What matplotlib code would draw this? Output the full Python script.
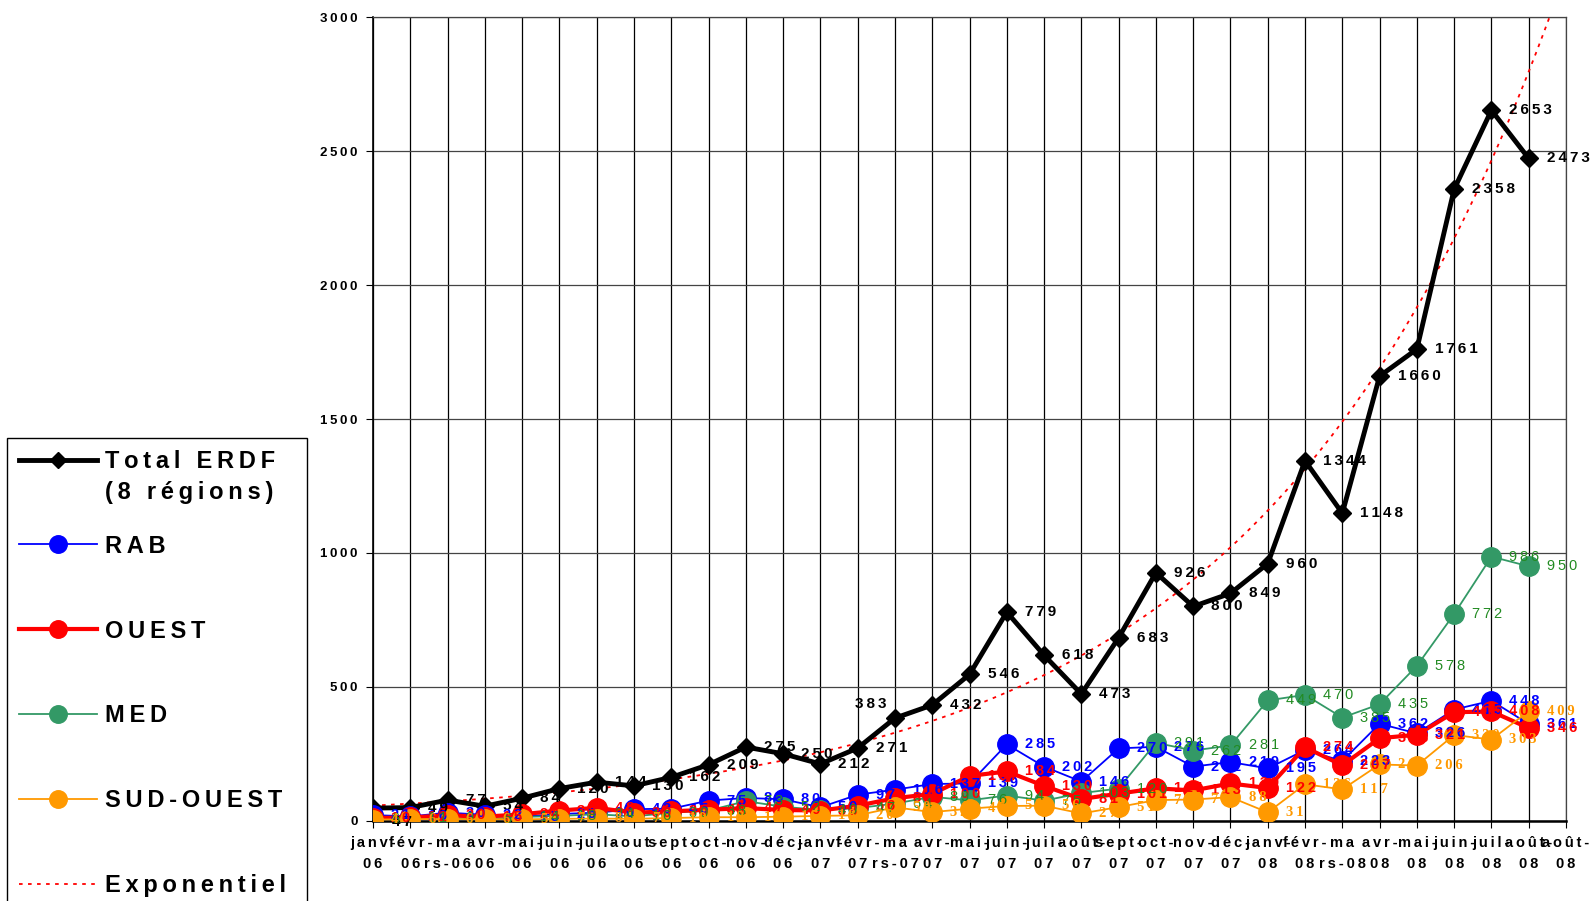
import numpy as np
import matplotlib
matplotlib.use("Agg")
import matplotlib.pyplot as plt

plt.rcParams['font.family'] = ['Liberation Sans', 'DejaVu Sans']

mois = ["janv-06", "févr-06", "mars-06", "avr-06", "mai-06", "juin-06", "juil-06", "aout-06",
        "sept-06", "oct-06", "nov-06", "déc-06", "janv-07", "févr-07", "mars-07", "avr-07",
        "mai-07", "juin-07", "juil-07", "août-07", "sept-07", "oct-07", "nov-07", "déc-07",
        "janv-08", "févr-08", "mars-08", "avr-08", "mai-08", "juin-08", "juil-08", "août-08",
        "août-08"]

total = [47, 49, 77, 54, 84, 120, 144, 130, 162, 209, 275, 250, 212, 271, 383, 432,
         546, 779, 618, 473, 683, 926, 800, 849, 960, 1344, 1148, 1660, 1761, 2358, 2653, 2473]
rab = [21, 16, 30, 22, 15, 25, 30, 43, 45, 75, 85, 80, 50, 97, 116, 137,
       139, 285, 202, 146, 270, 276, 202, 219, 195, 264, 223, 362, 326, 415, 448, 361]
ouest = [10, 12, 20, 15, 24, 38, 48, 30, 35, 41, 47, 40, 38, 56, 84, 100,
         167, 184, 130, 81, 101, 121, 113, 139, 122, 274, 207, 308, 321, 405, 408, 346]
med = [6, 11, 9, 6, 14, 18, 24, 16, 30, 38, 73, 52, 40, 47, 64, 89,
       76, 94, 75, 103, 120, 291, 262, 281, 449, 470, 385, 435, 578, 772, 986, 950]
sud_ouest = [4, 6, 6, 6, 5, 7, 8, 7, 10, 13, 13, 15, 18, 20, 50, 32,
             45, 55, 56, 27, 51, 77, 79, 88, 31, 136, 117, 210, 206, 320, 303, 409]

TS = '\u2009'


def spaced(s):
    return TS.join(s)


def tick_label(m):
    nom, an = m.split('-')
    if nom == 'mars':
        return spaced('ma') + '\n' + spaced('rs-' + an)
    return spaced(nom + '-') + '\n' + spaced(an)


fig = plt.figure(figsize=(15.94, 9.01), dpi=100)
ax = fig.add_axes([373 / 1594, 1 - 820.7 / 901, (1566 - 373) / 1594, (820.7 - 17.3) / 901])

x = np.arange(len(total))

# tendance exponentielle (ajustement moindres carres sur ln)
b, a = np.polyfit(x, np.log(total), 1)
xt = np.linspace(0, len(mois) - 1, 200)
ax.plot(xt, np.exp(a + b * xt), color='red', lw=1.3, ls=(0, (2, 3)), zorder=2,
        label=spaced('Exponentiel'))

ax.plot(x, total, color='black', lw=3.5, marker='D', ms=9, zorder=3,
        label=spaced('Total ERDF'))
ax.plot(x, rab, color='#0000ff', lw=1.3, marker='o', ms=14, zorder=4, label=spaced('RAB'))
ax.plot(x, med, color='#339966', lw=1.3, marker='o', ms=14, zorder=5, label=spaced('MED'))
ax.plot(x, ouest, color='#ff0000', lw=3, marker='o', ms=14, zorder=6, label=spaced('OUEST'))
ax.plot(x, sud_ouest, color='#ff9900', lw=1.3, marker='o', ms=14, zorder=7,
        label=spaced('SUD-OUEST') + '  ')

# etiquettes de donnees
series = [
    (total, 'black', dict(fontsize=11, fontweight='bold')),
    (rab, '#0000ff', dict(fontsize=10.5, fontweight='bold')),
    (ouest, '#ff0000', dict(fontsize=10.5, fontweight='bold')),
    (med, '#228b22', dict(fontsize=10.5)),
    (sud_ouest, '#ff9900', dict(fontsize=10.5, fontweight='bold', family='Liberation Serif')),
]
for vals, col, kw in series:
    for i, v in enumerate(vals):
        off = (13, 0)
        ha = 'left'
        if vals is total and i == 0:
            off = (14, -10)
        if vals is total and i == 14:
            off, ha = (-6, 10), 'right'
        ax.annotate(spaced(str(v)), (i, v), xytext=off, textcoords='offset points',
                    ha=ha, va='center', color=col, zorder=8, **kw)

ax.set_xlim(0, len(mois) - 1)
ax.set_ylim(0, 3000)
ax.set_xticks(np.arange(len(mois)))
ax.set_xticklabels([tick_label(m) for m in mois], fontsize=10.5, fontweight='bold',
                   linespacing=1.6)
ax.set_yticks(np.arange(0, 3001, 500))
ax.set_yticklabels([spaced(str(t)) for t in range(0, 3001, 500)], fontsize=9.5,
                   fontweight='bold')
ax.tick_params(axis='x', direction='out', length=5, pad=6)
ax.tick_params(axis='y', direction='out', length=5, pad=6)
ax.grid(axis='x', color='black', lw=0.9)
ax.grid(axis='y', color='#444444', lw=0.9)
ax.set_axisbelow(True)
for s in ['top', 'right']:
    ax.spines[s].set_color('#444444')
    ax.spines[s].set_linewidth(0.9)
ax.spines['bottom'].set_linewidth(1.8)
ax.spines['left'].set_linewidth(1.2)

h, l = ax.get_legend_handles_labels()
order = [1, 2, 4, 3, 5, 0]
leg = fig.legend([h[k] for k in order], [l[k] for k in order], loc='upper left',
                 bbox_to_anchor=(7 / 1594, 1 - 438 / 901), frameon=True, fancybox=False,
                 edgecolor='black', framealpha=1, prop=dict(size=17, weight='bold'),
                 labelspacing=2.62, handlelength=3.3, handletextpad=0.35, borderpad=0.5,
                 markerscale=0.9, borderaxespad=0)
leg.get_frame().set_linewidth(1.0)

# deuxieme ligne du libelle Total, sous "Total ERDF"
fig.canvas.draw()
bb = leg.get_texts()[0].get_window_extent()
fig.text(bb.x0 / 1594, (bb.y0 - 31) / 901, spaced('(8 régions)'), fontsize=17,
         fontweight='bold', ha='left', va='bottom', zorder=10)

fig.savefig('out.png', dpi=100)
